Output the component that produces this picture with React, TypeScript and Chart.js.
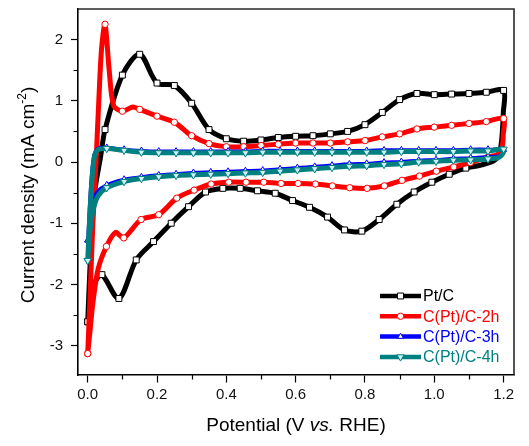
import React, { useEffect, useRef } from "react";
import { Chart, registerables } from "chart.js";

Chart.register(...registerables);

// ---------- DATA (potential V vs. RHE, current density mA cm^-2) ----------
// a third element 0 marks a sample drawn without a symbol
const seriesNames = ["Pt/C", "C(Pt)/C-2h", "C(Pt)/C-3h", "C(Pt)/C-4h"];

const ptcLoop: number[][] = [
  [0.0, -2.61],
  [0.006, -1.8, 0], [0.014, -0.9, 0], [0.022, -0.41, 0], [0.037, 0.08, 0],
  [0.05, 0.53], [0.1, 1.42], [0.15, 1.76], [0.2, 1.29], [0.25, 1.25], [0.3, 0.96],
  [0.35, 0.53], [0.4, 0.38], [0.45, 0.34], [0.5, 0.36], [0.55, 0.4], [0.6, 0.42],
  [0.65, 0.43], [0.7, 0.46], [0.75, 0.5], [0.8, 0.61], [0.85, 0.81], [0.9, 1.02],
  [0.95, 1.12], [1.0, 1.1], [1.05, 1.11], [1.1, 1.12], [1.15, 1.14], [1.2, 1.17],
  [1.199, 0.8, 0], [1.195, 0.4, 0], [1.188, 0.15, 0], [1.172, 0.02, 0], [1.135, -0.05, 0],
  [1.091, -0.1], [1.043, -0.2], [0.993, -0.33], [0.942, -0.49], [0.892, -0.69],
  [0.841, -0.94], [0.791, -1.13], [0.741, -1.11], [0.692, -0.9], [0.64, -0.74],
  [0.591, -0.63], [0.541, -0.51], [0.49, -0.47], [0.44, -0.43], [0.39, -0.43],
  [0.34, -0.49], [0.291, -0.73], [0.241, -1.0], [0.19, -1.3], [0.14, -1.6],
  [0.09, -2.23], [0.041, -1.84], [0.022, -1.95, 0], [0.01, -2.2, 0], [0.0, -2.61],
];

const c2hLoop: number[][] = [
  [0.0, -3.13],
  [0.006, -2.3, 0], [0.015, -1.0, 0], [0.024, 0.0, 0], [0.032, 1.0, 0], [0.04, 1.85, 0],
  [0.05, 2.25], [0.062, 1.5, 0], [0.075, 0.92, 0], [0.1, 0.83], [0.13, 0.9, 0],
  [0.15, 0.86], [0.2, 0.75], [0.25, 0.65], [0.3, 0.43], [0.35, 0.3], [0.4, 0.25],
  [0.45, 0.25], [0.5, 0.27], [0.55, 0.29], [0.6, 0.31], [0.65, 0.31], [0.7, 0.31],
  [0.75, 0.33], [0.8, 0.35], [0.85, 0.41], [0.9, 0.46], [0.95, 0.54], [1.0, 0.57],
  [1.05, 0.6], [1.1, 0.63], [1.15, 0.66], [1.2, 0.71],
  [1.199, 0.45, 0], [1.196, 0.25, 0], [1.185, 0.13, 0],
  [1.155, 0.08], [1.104, -0.01], [1.056, -0.08], [1.006, -0.15], [0.957, -0.23],
  [0.907, -0.3], [0.856, -0.39], [0.806, -0.43], [0.756, -0.42], [0.706, -0.39],
  [0.657, -0.36], [0.607, -0.35], [0.558, -0.35], [0.508, -0.33], [0.457, -0.33],
  [0.407, -0.33], [0.356, -0.36], [0.307, -0.46], [0.257, -0.59], [0.205, -0.86],
  [0.154, -0.94], [0.104, -1.24], [0.08, -1.15, 0], [0.054, -1.38],
  [0.03, -1.75, 0], [0.015, -2.3, 0], [0.006, -2.8, 0], [0.0, -3.13],
];

const c3hLoop: number[][] = [
  [0.0, -1.28],
  [0.004, -0.8, 0], [0.01, -0.25, 0], [0.018, 0.12, 0], [0.03, 0.23, 0],
  [0.055, 0.24], [0.105, 0.21], [0.155, 0.19], [0.205, 0.18], [0.255, 0.18],
  [0.305, 0.18], [0.355, 0.18], [0.405, 0.18], [0.455, 0.18], [0.505, 0.19],
  [0.555, 0.19], [0.605, 0.19], [0.655, 0.19], [0.705, 0.19], [0.755, 0.19],
  [0.805, 0.19], [0.855, 0.2], [0.905, 0.2], [0.955, 0.2], [1.005, 0.2],
  [1.055, 0.2], [1.105, 0.21], [1.155, 0.21], [1.2, 0.2],
  [1.197, 0.14, 0], [1.185, 0.1, 0],
  [1.155, 0.09], [1.105, 0.07], [1.055, 0.06], [1.005, 0.04], [0.955, 0.03],
  [0.905, 0.01], [0.855, 0.0], [0.805, -0.02], [0.755, -0.03], [0.705, -0.05],
  [0.655, -0.07], [0.605, -0.09], [0.555, -0.11], [0.505, -0.13], [0.455, -0.14],
  [0.405, -0.15], [0.355, -0.16], [0.305, -0.17], [0.255, -0.19], [0.205, -0.21],
  [0.155, -0.24], [0.105, -0.28], [0.055, -0.37],
  [0.025, -0.5, 0], [0.012, -0.72, 0], [0.005, -1.0, 0], [0.0, -1.28],
];

const c4hLoop: number[][] = [
  [0.0, -1.61],
  [0.005, -1.0, 0], [0.011, -0.4, 0], [0.019, 0.08, 0], [0.03, 0.2, 0],
  [0.055, 0.22], [0.105, 0.19], [0.155, 0.16], [0.205, 0.15], [0.255, 0.15],
  [0.305, 0.15], [0.355, 0.15], [0.405, 0.15], [0.455, 0.15], [0.505, 0.16],
  [0.555, 0.16], [0.605, 0.16], [0.655, 0.16], [0.705, 0.16], [0.755, 0.16],
  [0.805, 0.16], [0.855, 0.16], [0.905, 0.17], [0.955, 0.17], [1.005, 0.17],
  [1.055, 0.17], [1.105, 0.18], [1.155, 0.18], [1.2, 0.21],
  [1.197, 0.13, 0], [1.185, 0.07, 0],
  [1.155, 0.05], [1.105, 0.035], [1.055, 0.03], [1.005, 0.01], [0.955, 0.0],
  [0.905, -0.03], [0.855, -0.04], [0.805, -0.06], [0.755, -0.07], [0.705, -0.09],
  [0.655, -0.11], [0.605, -0.13], [0.555, -0.15], [0.505, -0.17], [0.455, -0.18],
  [0.405, -0.19], [0.355, -0.2], [0.305, -0.21], [0.255, -0.22], [0.205, -0.24],
  [0.155, -0.27], [0.105, -0.32], [0.055, -0.42],
  [0.03, -0.55, 0], [0.015, -0.8, 0], [0.006, -1.15, 0], [0.0, -1.61],
];

const xMinorTicks = [0.1, 0.3, 0.5, 0.7, 0.9, 1.1];
const yMinorTicks = [-2.5, -1.5, -0.5, 0.5, 1.5];

// ---------- STYLE ----------
const FONT = '"Liberation Sans", Arial, Helvetica, sans-serif';
type Sty = { color: string; width: number; shape: string; radius: number; rotation: number; fill: string; order: number };
const styles: Sty[] = [
  { color: "#000000", width: 5, shape: "rect", radius: 4.2, rotation: 0, fill: "#ffffff", order: 3 },
  { color: "#ff0000", width: 5, shape: "circle", radius: 3.2, rotation: 0, fill: "#ffffff", order: 2 },
  { color: "#0000ff", width: 3, shape: "triangle", radius: 3.4, rotation: 0, fill: "#ffffff", order: 1 },
  { color: "#008080", width: 5, shape: "triangle", radius: 4.2, rotation: 180, fill: "#cdeff6", order: 0 },
];
const loops = [ptcLoop, c2hLoop, c3hLoop, c4hLoop];

function drawMarker(ctx: CanvasRenderingContext2D, s: Sty, x: number, y: number) {
  ctx.save();
  ctx.beginPath();
  const r = s.radius;
  if (s.shape === "rect") {
    const h = r * Math.SQRT1_2;
    ctx.rect(x - h, y - h, 2 * h, 2 * h);
  } else if (s.shape === "circle") {
    ctx.arc(x, y, r, 0, Math.PI * 2);
  } else {
    const rot = (s.rotation * Math.PI) / 180;
    for (let k = 0; k < 3; k++) {
      const a = rot + (k * 2 * Math.PI) / 3;
      const px = x + Math.sin(a) * r;
      const py = y - Math.cos(a) * r;
      if (k === 0) ctx.moveTo(px, py);
      else ctx.lineTo(px, py);
    }
    ctx.closePath();
  }
  ctx.fillStyle = s.fill;
  ctx.fill();
  ctx.lineWidth = 1;
  ctx.strokeStyle = s.color;
  ctx.stroke();
  ctx.restore();
}

function drawSegments(ctx: CanvasRenderingContext2D, segs: { t: string; f: string; dy?: number }[], cx: number, y: number) {
  let total = 0;
  for (const s of segs) {
    ctx.font = s.f;
    total += ctx.measureText(s.t).width;
  }
  let x = cx - total / 2;
  for (const s of segs) {
    ctx.font = s.f;
    ctx.fillText(s.t, x, y + (s.dy || 0));
    x += ctx.measureText(s.t).width;
  }
}

const decorPlugin = {
  id: "decor",
  afterDraw(chart: any) {
    const ctx: CanvasRenderingContext2D = chart.ctx;
    const { left, right, top, bottom } = chart.chartArea;
    const xs = chart.scales.x;
    const ys = chart.scales.y;
    ctx.save();
    // frame top & right
    ctx.strokeStyle = "#2a2a2a";
    ctx.lineWidth = 1.6;
    ctx.beginPath();
    ctx.moveTo(left, top);
    ctx.lineTo(right, top);
    ctx.lineTo(right, bottom);
    ctx.stroke();
    // minor ticks
    ctx.strokeStyle = "#000";
    ctx.lineWidth = 1.2;
    ctx.beginPath();
    for (const v of xMinorTicks) {
      const px = Math.round(xs.getPixelForValue(v)) + 0.5;
      ctx.moveTo(px, bottom);
      ctx.lineTo(px, bottom + 4.5);
    }
    for (const v of yMinorTicks) {
      const py = Math.round(ys.getPixelForValue(v)) + 0.5;
      ctx.moveTo(left, py);
      ctx.lineTo(left - 4.5, py);
    }
    ctx.stroke();

    // axis titles
    ctx.fillStyle = "#000";
    ctx.textBaseline = "alphabetic";
    ctx.textAlign = "left";
    drawSegments(
      ctx,
      [
        { t: "Potential (V ", f: `19px ${FONT}` },
        { t: "vs.", f: `italic 19px ${FONT}` },
        { t: " RHE)", f: `19px ${FONT}` },
      ],
      (left + right) / 2,
      431
    );
    ctx.save();
    ctx.translate(33.5, 195);
    ctx.rotate(-Math.PI / 2);
    drawSegments(
      ctx,
      [
        { t: "Current density (mA cm", f: `19px ${FONT}` },
        { t: "-2", f: `12px ${FONT}`, dy: -8 },
        { t: ")", f: `19px ${FONT}` },
      ],
      0,
      0
    );
    ctx.restore();

    // legend
    const lx0 = 380;
    const lx1 = 421;
    for (let i = 0; i < seriesNames.length; i++) {
      const s = styles[i];
      const ly = 296 + i * 20.3;
      ctx.strokeStyle = s.color;
      ctx.lineWidth = 4.5;
      ctx.lineCap = "butt";
      ctx.beginPath();
      ctx.moveTo(lx0, ly);
      ctx.lineTo(lx1, ly);
      ctx.stroke();
      drawMarker(ctx, s, (lx0 + lx1) / 2, ly);
      ctx.fillStyle = s.color;
      ctx.font = `16px ${FONT}`;
      ctx.textBaseline = "middle";
      ctx.fillText(seriesNames[i], lx1 + 2, ly + 1);
    }
    ctx.restore();
  },
};

export default function App() {
  const ref = useRef<HTMLCanvasElement | null>(null);
  useEffect(() => {
    if (!ref.current) return;
    const datasets = loops.map((loop, i) => {
      const s = styles[i];
      return {
        label: seriesNames[i],
        data: loop.map((p) => ({ x: p[0], y: p[1] })),
        showLine: true,
        borderColor: s.color,
        borderWidth: s.width,
        backgroundColor: s.fill,
        tension: 0.3,
        order: s.order,
        pointStyle: s.shape,
        pointRotation: s.rotation,
        pointRadius: (c: any) => (loop[c.dataIndex] && loop[c.dataIndex].length === 3 ? 0 : s.radius),
        pointHoverRadius: (c: any) => (loop[c.dataIndex] && loop[c.dataIndex].length === 3 ? 0 : s.radius),
        pointBackgroundColor: s.fill,
        pointBorderColor: s.color,
        pointBorderWidth: 1,
        clip: false as any,
      };
    });
    const chart = new Chart(ref.current, {
      type: "scatter",
      data: { datasets },
      options: {
        responsive: false,
        animation: false,
        devicePixelRatio: 1,
        layout: { padding: { top: 9, right: 15, left: 0, bottom: 0 } },
        plugins: { legend: { display: false }, tooltip: { enabled: false } },
        scales: {
          x: {
            type: "linear",
            min: -0.028,
            max: 1.23,
            afterFit: (sc: any) => {
              sc.height = 71;
              sc.paddingLeft = 0;
              sc.paddingRight = 0;
            },
            ticks: {
              stepSize: 0.2,
              includeBounds: false,
              padding: 3,
              color: "#111",
              font: { family: FONT, size: 15 },
              callback: (v: any) => Number(v).toFixed(1),
              maxRotation: 0,
            },
            grid: {
              display: true,
              drawOnChartArea: false,
              drawTicks: true,
              tickLength: 7.5,
              tickColor: "#000",
              tickWidth: 1.2,
            },
            border: { display: true, color: "#000", width: 1.6 },
          },
          y: {
            type: "linear",
            min: -3.48,
            max: 2.5,
            afterFit: (sc: any) => {
              sc.width = 78;
              sc.paddingTop = 0;
              sc.paddingBottom = 0;
            },
            ticks: {
              stepSize: 1,
              includeBounds: false,
              padding: 8,
              color: "#111",
              font: { family: FONT, size: 15 },
              callback: (v: any) => String(Math.round(Number(v))),
            },
            grid: {
              display: true,
              drawOnChartArea: false,
              drawTicks: true,
              tickLength: 7,
              tickColor: "#000",
              tickWidth: 1.2,
            },
            border: { display: true, color: "#000", width: 1.6 },
          },
        },
      },
      plugins: [decorPlugin],
    });
    return () => chart.destroy();
  }, []);
  return (
    <div style={{ position: "fixed", left: 0, top: 0, width: 529, height: 446, background: "#fff" }}>
      <canvas ref={ref} width={529} height={446} style={{ display: "block", width: 529, height: 446 }} />
    </div>
  );
}
